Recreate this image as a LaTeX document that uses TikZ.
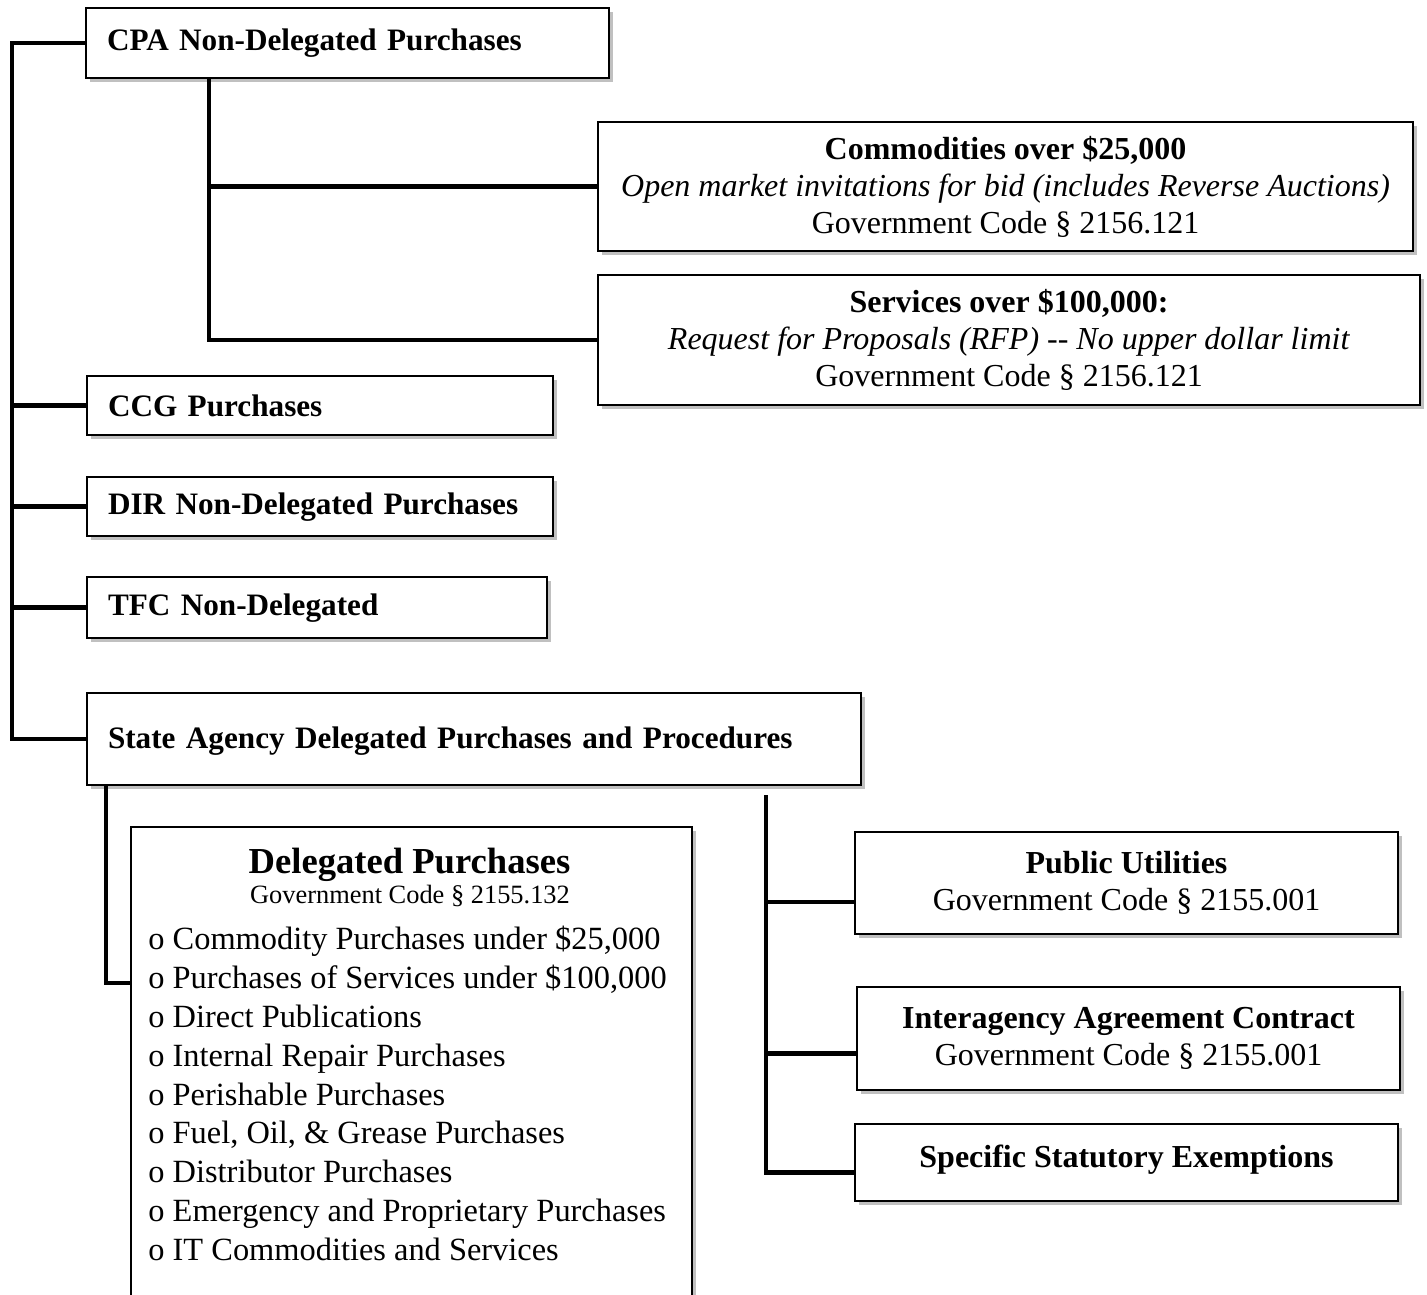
\documentclass[tikz,border=0pt]{standalone}
\usepackage{fontspec}
\setmainfont{Liberation Serif}
\usetikzlibrary{calc, shadows}

\begin{document}
\begin{tikzpicture}[
  x=0.5pt, y=-0.5pt,
  box/.style={draw=black, line width=1pt, fill=white, inner sep=0pt,
              drop shadow={shadow xshift=2pt, shadow yshift=-2pt,
                           fill=black!45, opacity=0.55}},
  lbox/.style={box, align=left, inner xsep=10.5pt,
               font=\fontsize{15.6}{19}\selectfont\bfseries},
  cbox/.style={box, align=center, font=\fontsize{16}{18.5}\selectfont},
  link/.style={line width=2.2pt, line join=miter},
]
  \clip (0,0) rectangle (1427,1294);

  % Nodes
  \node[lbox, minimum width=261.5pt, minimum height=35pt, text width=240.5pt]
    (cpa) at (347.5,43) {CPA Non-Delegated Purchases};
  \node[cbox, minimum width=407.5pt, minimum height=64.5pt] (comm) at (1005.5,186.5)
    {\textbf{Commodities over \$25,000}\\
     \textit{Open market invitations for bid (includes Reverse Auctions)}\\
     Government Code § 2156.121};
  \node[cbox, minimum width=411pt, minimum height=65pt] (serv) at (1009,340)
    {\textbf{Services over \$100,000:}\\
     \textit{Request for Proposals (RFP) {-}{-} No upper dollar limit}\\
     Government Code § 2156.121};
  \node[lbox, minimum width=233pt, minimum height=29.5pt, text width=212pt,
        text height=11.5pt] (ccg) at (320,405.5) {CCG Purchases};
  \node[lbox, minimum width=233pt, minimum height=29.5pt, text width=212pt,
        text height=11.5pt] (dir) at (320,506.5) {DIR Non-Delegated Purchases};
  \node[lbox, minimum width=230pt, minimum height=30.5pt, text width=209pt,
        text height=11.5pt] (tfc) at (317,607.5) {TFC Non-Delegated};
  \node[lbox, minimum width=387pt, minimum height=46pt, text width=366pt,
        text height=13pt] (state) at (474,739) {State Agency Delegated Purchases and Procedures};

  \node[box, minimum width=280.5pt, minimum height=242pt] (deleg) at (411.5,1068.5) {};
  \node[anchor=base, font=\fontsize{18.3}{22}\selectfont\bfseries]
    (delegtitle) at (409.5,873) {Delegated Purchases};
  \node[anchor=base, font=\fontsize{13.2}{16}\selectfont]
    (delegcode) at (410,903) {Government Code § 2155.132};
  \node[anchor=north west, align=left, inner sep=0pt,
        font=\fontsize{16.2}{19.4}\selectfont] (deleglist) at (148,926)
    {o Commodity Purchases under \$25,000\\
     o Purchases of Services under \$100,000\\
     o Direct Publications\\
     o Internal Repair Purchases\\
     o Perishable Purchases\\
     o Fuel, Oil, \& Grease Purchases\\
     o Distributor Purchases\\
     o Emergency and Proprietary Purchases\\
     o IT Commodities and Services};

  \node[cbox, minimum width=271.5pt, minimum height=51pt] (pub) at (1126.5,883)
    {\textbf{Public Utilities}\\ Government Code § 2155.001};
  \node[cbox, minimum width=271.5pt, minimum height=51.5pt] (inter) at (1128.5,1038.5)
    {\textbf{Interagency Agreement Contract}\\ Government Code § 2155.001};
  \node[cbox, minimum width=271.5pt, minimum height=38.5pt, text depth=6pt]
    (spec) at (1126.5,1162.5) {\textbf{Specific Statutory Exemptions}};

  % Edges
  \coordinate (t0) at (12,43);
  \draw[link] (cpa.west) -- (t0) |- (state.west);
  \draw[link] (ccg.west) -- (ccg.west -| t0);
  \draw[link] (dir.west) -- (dir.west -| t0);
  \draw[link] (tfc.west) -- (tfc.west -| t0);

  \coordinate (c0) at (209,78);
  \draw[link] (c0) |- (serv.west);
  \draw[link] (comm.west) -- (comm.west -| c0);

  \coordinate (s0) at (106,785);
  \coordinate (s1) at (131,983);
  \draw[link] (s0) |- (s1);

  \coordinate (r0) at (766,795);
  \coordinate (pubin) at ($(pub.west)+(0,19)$);
  \coordinate (interin) at ($(inter.west)+(0,15)$);
  \coordinate (specin) at ($(spec.west)+(0,10)$);
  \draw[link] (r0) |- (specin);
  \draw[link] (pubin) -- (pubin -| r0);
  \draw[link] (interin) -- (interin -| r0);
\end{tikzpicture}
\end{document}
